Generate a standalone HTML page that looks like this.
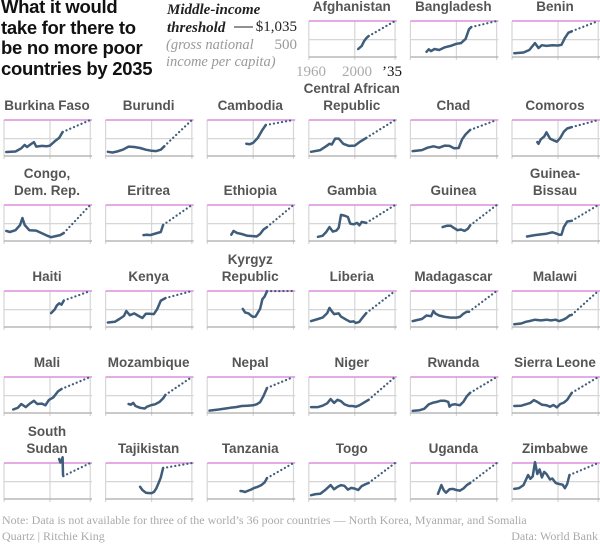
<!DOCTYPE html>
<html><head><meta charset="utf-8">
<style>
html,body{margin:0;padding:0;background:#fff;}
body{width:600px;height:546px;overflow:hidden;position:relative;font-family:"Liberation Sans",sans-serif;}
#title{position:absolute;left:1px;top:-3px;font-weight:bold;font-size:18.5px;line-height:20.6px;color:#111;letter-spacing:-0.3px;}
svg{position:absolute;left:0;top:0;}
.ser{font-family:"Liberation Serif",serif;}
</style></head>
<body>
<div id="title">What it would<br>take for there to<br>be no more poor<br>countries by 2035</div>
<svg id="chart" width="600" height="546">
  <g>
    <text x="167" y="14" class="ser" font-size="15" font-style="italic" font-weight="bold" fill="#222">Middle-income</text>
    <text x="167" y="32" class="ser" font-size="15" font-style="italic" font-weight="bold" fill="#222">threshold</text>
    <line x1="234" y1="27" x2="253" y2="27" stroke="#222" stroke-width="1"/>
    <text x="297" y="31" class="ser" font-size="15" text-anchor="end" fill="#222">$1,035</text>
    <text x="297" y="49" class="ser" font-size="15" text-anchor="end" fill="#999">500</text>
    <text x="166" y="49" class="ser" font-size="14.5" font-style="italic" fill="#999">(gross national</text>
    <text x="166" y="66" class="ser" font-size="14.5" font-style="italic" fill="#999">income per capita)</text>
    <text x="311" y="76" class="ser" font-size="15" text-anchor="middle" fill="#aaa">1960</text>
    <text x="357" y="76" class="ser" font-size="15" text-anchor="middle" fill="#aaa">2000</text>
    <text x="392" y="76" class="ser" font-size="15" text-anchor="middle" fill="#111">’35</text>
  </g>
  <text x="2" y="524" class="ser" font-size="12" fill="#aaa">Note: Data is not available for three of the world’s 36 poor countries — North Korea, Myanmar, and Somalia</text>
  <text x="2" y="540" class="ser" font-size="12" fill="#aaa">Quartz | Ritchie King</text>
  <text x="598" y="540" class="ser" font-size="12" fill="#aaa" text-anchor="end">Data: World Bank</text>
</svg>
<script>
const threshold = 1035;
const targetYear = 2035;
const countryNames = ["Afghanistan","Bangladesh","Benin","Burkina Faso","Burundi","Cambodia","Central African|Republic","Chad","Comoros","Congo,|Dem. Rep.","Eritrea","Ethiopia","Gambia","Guinea","Guinea-|Bissau","Haiti","Kenya","Kyrgyz|Republic","Liberia","Madagascar","Malawi","Mali","Mozambique","Nepal","Niger","Rwanda","Sierra Leone","South|Sudan","Tajikistan","Tanzania","Togo","Uganda","Zimbabwe"];
const seriesYears = [
[2003,2006,2008,2010,2012],
[1974,1976,1978,1981,1985,1990,1995,2000,2004,2008,2011,2013],
[1962,1970,1975,1980,1983,1986,1990,1995,2000,2003,2006,2009,2012],
[1962,1970,1975,1978,1980,1983,1986,1988,1993,1997,2000,2004,2008,2011],
[1962,1966,1970,1975,1980,1985,1990,1995,2000,2004,2008,2011],
[1994,1997,2000,2004,2008,2011],
[1962,1970,1975,1978,1980,1983,1986,1990,1995,2000,2005,2010],
[1962,1970,1975,1980,1985,1990,1994,1998,2002,2005,2008,2012],
[1982,1983,1985,1988,1990,1993,1996,1999,2002,2005,2008,2012],
[1962,1965,1970,1974,1976,1978,1982,1988,1993,1997,2001,2005,2009,2012],
[1993,1996,1999,2002,2005,2008,2010],
[1981,1983,1986,1990,1995,2000,2003,2006,2009,2012],
[1968,1972,1975,1978,1981,1984,1986,1988,1991,1994,1996,1999,2002,2004,2006,2010],
[1988,1992,1995,1998,2001,2004,2007,2010,2012],
[1973,1980,1985,1990,1995,1998,2001,2003,2005,2008,2012],
[2001,2004,2006,2008,2010,2012],
[1962,1968,1972,1976,1978,1981,1985,1988,1992,1995,1998,2002,2005,2008,2012],
[1991,1993,1996,1998,2000,2002,2004,2006,2008,2010,2012],
[1962,1968,1972,1976,1978,1980,1982,1986,1988,1992,1996,1999,2001,2004,2007,2010],
[1962,1966,1970,1974,1978,1980,1982,1985,1990,1995,2000,2003,2006,2009,2011],
[1962,1968,1972,1975,1980,1985,1990,1994,1998,2001,2004,2007,2010,2012],
[1968,1972,1975,1979,1982,1986,1989,1993,1996,1999,2003,2007,2010],
[1980,1982,1984,1986,1990,1994,1996,2000,2003,2007,2010,2012],
[1962,1970,1976,1980,1985,1990,1995,2000,2003,2006,2009,2012],
[1962,1968,1972,1976,1979,1982,1985,1988,1991,1995,1998,2001,2004,2008,2012],
[1962,1968,1972,1976,1980,1983,1986,1990,1993,1994,1996,1999,2003,2006,2009,2012],
[1962,1968,1972,1976,1979,1982,1986,1990,1993,1996,1999,2002,2005,2008,2012],
[2008,2009,2010,2011,2011.3,2011.6],
[1990,1992,1995,1998,2000,2002,2004,2006,2008,2010],
[1989,1991,1993,1995,1998,2001,2004,2007,2010,2012],
[1962,1966,1970,1974,1979,1982,1985,1988,1991,1994,1997,2000,2003,2006,2009,2012],
[1984,1987,1989,1991,1994,1997,2000,2003,2006,2009,2012],
[1962,1966,1970,1974,1976,1978,1980,1982,1984,1986,1988,1990,1993,1995,1998,2001,2004,2006,2008,2010]
];
const seriesValues = [
[230,320,450,540,600],
[150,220,170,230,200,280,320,380,400,520,800,860],
[110,130,200,400,260,340,320,340,330,350,550,700,740],
[115,130,220,320,260,330,400,270,290,280,300,420,520,690],
[120,100,130,180,270,260,230,180,150,140,180,280],
[350,340,380,520,750,890],
[120,170,280,350,330,500,500,350,290,300,420,520],
[140,170,240,280,240,300,290,220,230,480,620,750],
[400,350,480,560,680,500,450,410,520,700,790,830],
[290,260,310,460,660,460,310,300,220,160,110,140,170,230],
[170,180,170,200,230,260,460],
[180,290,230,200,150,140,130,200,330,400],
[120,150,250,400,270,300,380,750,730,690,500,480,520,450,550,520],
[400,440,440,370,310,330,290,350,450],
[130,170,190,210,250,220,180,180,400,560,580],
[400,500,620,680,640,760],
[130,150,230,320,460,340,390,330,260,380,380,370,520,760,830],
[520,420,390,330,290,300,410,520,800,880,1030],
[170,230,270,400,550,450,370,390,300,220,150,160,115,150,280,400],
[170,200,230,330,310,460,380,330,290,270,270,290,380,440,440],
[80,100,150,170,210,190,210,190,210,170,200,250,330,350],
[100,150,260,170,260,350,260,270,220,370,450,620,690],
[260,240,290,200,150,130,180,230,250,320,420,520],
[70,100,130,150,170,200,210,220,250,310,490,720],
[170,170,210,280,400,290,380,340,250,200,200,180,220,300,380],
[60,80,120,250,300,320,350,350,320,180,240,250,220,320,480,580],
[200,210,250,290,370,320,240,220,180,230,160,260,300,380,580],
[1150,1050,1100,1200,700,660],
[350,260,180,170,170,200,300,450,620,890],
[230,220,200,230,270,320,350,400,480,600],
[110,140,150,250,400,280,350,400,380,270,320,300,260,370,420,460],
[150,400,250,180,280,290,260,240,300,400,460],
[290,310,400,690,580,650,1060,720,850,620,780,720,560,590,460,430,410,310,430,690]
];
const rowThreshold = [21,120,205,291,377,463];
const panelH = 36, panelW = 86, yearPx = 1.15;
const svg = document.getElementById('chart');
const NS = 'http://www.w3.org/2000/svg';
function mk(tag, attrs, parent){const e=document.createElementNS(NS,tag);for(const k in attrs)e.setAttribute(k,attrs[k]);parent.appendChild(e);return e;}
countryNames.forEach((name, i) => {
  const slot = i + 3, row = Math.floor(slot/6), col = slot % 6;
  const left = 4 + col*101.6, top = rowThreshold[row], bottom = top + panelH;
  const xs = yr => left + (yr-1960)*yearPx;
  const ys = v => bottom - v*panelH/threshold;
  const slug = name.replace('|',' ').toLowerCase().replace(/[^a-z]+/g,'-').replace(/-$/,'');
  const g = mk('g', {}, svg);
  
  
  [1960,2000,2035].forEach(yr => {
    const l = mk('line',{x1:xs(yr),x2:xs(yr),y1:top,y2:bottom+3,stroke:'#d6d6d6','stroke-width':1.2},g);
    
    
  });
  const g5 = mk('line',{x1:left,x2:left+panelW+2,y1:ys(500),y2:ys(500),stroke:'#d6d6d6','stroke-width':1.2},g);
  
  
  const base = mk('line',{x1:left,x2:left+panelW+2,y1:bottom,y2:bottom,stroke:'#aaa','stroke-width':1.3},g);
  
  
  const th = mk('line',{x1:left,x2:left+panelW+2,y1:ys(threshold),y2:ys(threshold),stroke:'#dc8fde','stroke-width':1.6},g);
  
  
  const yrs = seriesYears[i], vals = seriesValues[i];
  const d = yrs.map((y,k)=>(k?'L':'M')+xs(y).toFixed(1)+','+ys(vals[k]).toFixed(1)).join(' ');
  const last = yrs.length-1;
  const proj = mk('line',{x1:xs(yrs[last]),y1:ys(vals[last]),x2:xs(targetYear),y2:ys(threshold),stroke:'#3f5d7a','stroke-width':2.2,'stroke-dasharray':'0.1 4','stroke-linecap':'round'},g);
  
  
  const p = mk('path',{d:d,fill:'none',stroke:'#3f5d7a','stroke-width':2.5,'stroke-linejoin':'round','stroke-linecap':'round'},g);
  
  
  const lines = name.split('|');
  lines.forEach((ln,k) => {
    const t = mk('text',{x:left+panelW/2,y:top-10-(lines.length-1-k)*17,'text-anchor':'middle','font-size':13.5,'font-weight':'bold',fill:'#555','font-family':'"Liberation Sans",sans-serif'},g);
    t.textContent = ln;
    
    
  });
});
</script>
</body></html>
